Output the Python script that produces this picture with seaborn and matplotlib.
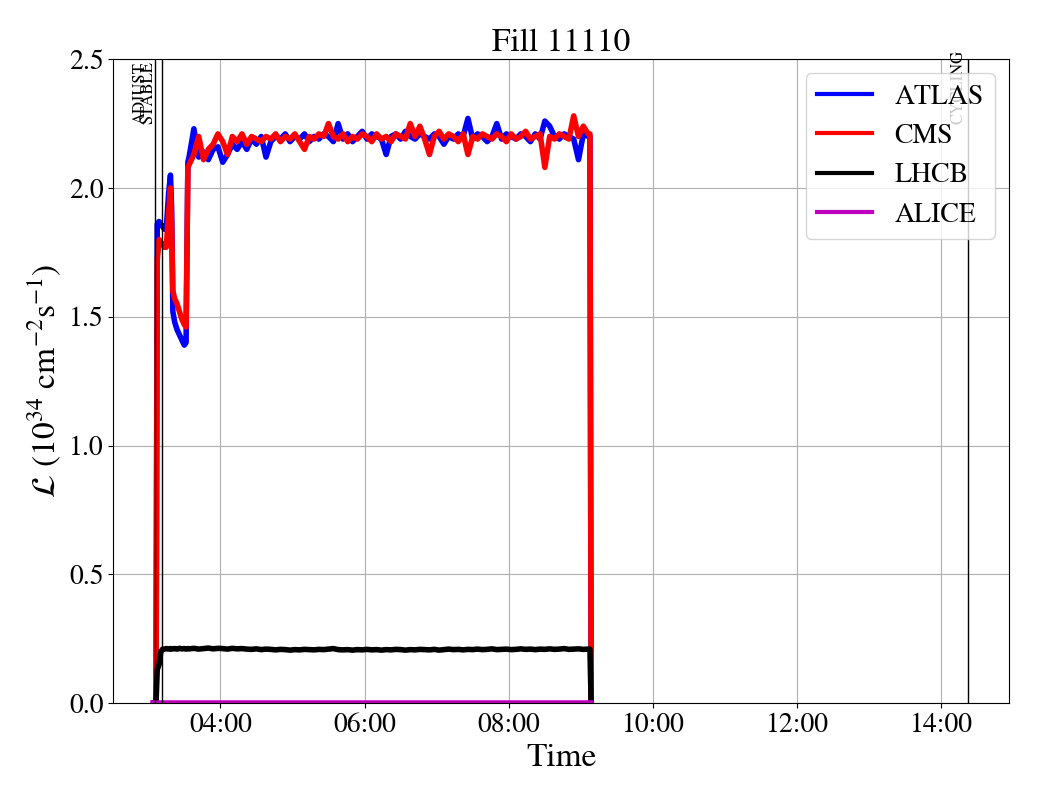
import matplotlib
matplotlib.use("Agg")
import matplotlib.pyplot as plt
import matplotlib.dates as mdates
import matplotlib.transforms as mtransforms
import numpy as np
import pandas as pd
import seaborn as sns

# ---------------- data ----------------
fill_title = "Fill 11110"
day = "2025-08-10"
start_clock = "03:00"

# minutes after 03:00
minutes = [5.0, 6.5, 7.5, 9.0, 10.5, 12.0, 13.5, 15.0, 17.0, 18.5, 19.5, 20.5, 22.0, 24.0,
           26.0, 28.0, 30.0, 31.5, 33.0,
           34, 38, 42, 46, 50, 54, 58, 62, 66, 70, 74, 78, 82, 86, 90, 94, 98, 102,
           106, 110, 114, 118, 122, 126, 130, 134, 138, 142, 146, 150, 154, 158, 162,
           166, 170, 174, 178, 182, 186, 190, 194, 198, 202, 206, 210, 214, 218, 222,
           226, 230, 234, 238, 242, 246, 250, 254, 258, 262, 266, 270, 274, 278, 282,
           286, 290, 294, 298, 302, 306, 310, 314, 318, 322, 326, 330, 334, 338, 342,
           346, 350, 354, 358, 362, 366,
           367.5, 368.5]

atlas = [0.0, 0.0, 1.86, 1.87, 1.86, 1.85, 1.84, 1.84, 1.98, 2.05, 1.92, 1.52, 1.48, 1.45,
         1.43, 1.41, 1.39, 1.40, 2.10,
         2.12, 2.23, 2.12, 2.14, 2.11, 2.15, 2.16, 2.10, 2.13, 2.17, 2.15, 2.18, 2.15, 2.19,
         2.17, 2.20, 2.12, 2.18, 2.20, 2.19, 2.21, 2.18, 2.20, 2.19, 2.21, 2.18, 2.20, 2.19,
         2.21, 2.20, 2.18, 2.25, 2.19, 2.21, 2.18, 2.20, 2.22, 2.19, 2.21, 2.20, 2.19, 2.13,
         2.20, 2.21, 2.19, 2.22, 2.20, 2.19, 2.21, 2.20, 2.19, 2.21, 2.20, 2.17, 2.20, 2.19,
         2.21, 2.20, 2.27, 2.19, 2.21, 2.20, 2.18, 2.20, 2.25, 2.19, 2.21, 2.20, 2.19, 2.21,
         2.20, 2.18, 2.21, 2.19, 2.26, 2.24, 2.20, 2.19, 2.21, 2.20, 2.19, 2.11, 2.21, 2.20,
         2.20, 0.0]

cms = [0.0, 0.0, 1.72, 1.80, 1.79, 1.78, 1.77, 1.77, 1.90, 2.00, 1.85, 1.60, 1.57, 1.55,
       1.52, 1.49, 1.47, 1.46, 2.08,
       2.09, 2.13, 2.20, 2.11, 2.15, 2.17, 2.21, 2.18, 2.13, 2.20, 2.18, 2.21, 2.17, 2.20,
       2.19, 2.18, 2.20, 2.19, 2.21, 2.18, 2.20, 2.19, 2.21, 2.18, 2.15, 2.20, 2.19, 2.21,
       2.20, 2.25, 2.20, 2.19, 2.21, 2.18, 2.20, 2.19, 2.21, 2.20, 2.18, 2.21, 2.19, 2.20,
       2.18, 2.21, 2.20, 2.19, 2.25, 2.20, 2.24, 2.19, 2.13, 2.20, 2.22, 2.19, 2.21, 2.20,
       2.18, 2.21, 2.13, 2.20, 2.19, 2.21, 2.20, 2.19, 2.21, 2.20, 2.18, 2.21, 2.19, 2.20,
       2.22, 2.19, 2.20, 2.21, 2.08, 2.20, 2.19, 2.21, 2.20, 2.19, 2.28, 2.20, 2.24, 2.21,
       2.21, 0.0]

lhcb = [0.0, 0.0, 0.13, 0.15, 0.20, 0.21, 0.21, 0.212, 0.21, 0.212, 0.21, 0.211, 0.212, 0.21,
        0.213, 0.211, 0.212, 0.21, 0.212,
        0.211, 0.213, 0.210, 0.212, 0.214, 0.211, 0.213, 0.212, 0.210, 0.213, 0.211, 0.212,
        0.210, 0.209, 0.211, 0.208, 0.210, 0.209, 0.207, 0.209, 0.208, 0.206, 0.208, 0.207,
        0.209, 0.208, 0.207, 0.209, 0.208, 0.210, 0.212, 0.208, 0.207, 0.208, 0.206, 0.208,
        0.207, 0.209, 0.207, 0.208, 0.206, 0.208, 0.207, 0.209, 0.208, 0.206, 0.208, 0.207,
        0.209, 0.208, 0.207, 0.209, 0.206, 0.208, 0.210, 0.208, 0.209, 0.207, 0.209, 0.208,
        0.210, 0.208, 0.209, 0.211, 0.208, 0.209, 0.210, 0.208, 0.209, 0.211, 0.209, 0.210,
        0.208, 0.210, 0.209, 0.211, 0.209, 0.210, 0.212, 0.209, 0.210, 0.211, 0.209, 0.210,
        0.210, 0.0]

alice_minutes = [4.0, 368.5]
alice = [0.0, 0.0]

experiments = ["ATLAS", "CMS", "LHCB", "ALICE"]
colors = {"ATLAS": "b", "CMS": "r", "LHCB": "k", "ALICE": "m"}

# beam modes: (label, minutes after 03:00)
mode_labels = ["ADJUST", "STABLE", "CYCLING"]
mode_minutes = [6.0, 11.8, 682.4]
mode_label_y = 2.25

x_limits_min = [-29.0, 716.0]
y_limits = [0.0, 2.5]

# ---------------- build table ----------------
base = pd.Timestamp(f"{day} {start_clock}")
frames = []
for name, vals, mins in [("ATLAS", atlas, minutes), ("CMS", cms, minutes),
                         ("LHCB", lhcb, minutes), ("ALICE", alice, alice_minutes)]:
    frames.append(pd.DataFrame({
        "time": base + pd.to_timedelta(mins, unit="min"),
        "lumi": vals,
        "experiment": name,
    }))
df = pd.concat(frames, ignore_index=True)

# ---------------- plot ----------------
plt.rcParams["font.family"] = ["STIXGeneral", "DejaVu Serif"]
plt.rcParams["mathtext.fontset"] = "stix"

fig = plt.figure(figsize=(10.4, 8), dpi=100)
ax = fig.add_axes([0.109, 0.121, 0.861, 0.805])

sns.lineplot(data=df, x="time", y="lumi", hue="experiment", hue_order=experiments,
             palette=colors, linewidth=4, estimator=None, sort=False, ax=ax)

for lab, m in zip(mode_labels, mode_minutes):
    t = base + pd.Timedelta(minutes=m)
    ax.axvline(t, color="k", linewidth=1, zorder=4)

offsets = {"ADJUST": -7, "STABLE": -6, "CYCLING": -2}
for lab, m in zip(mode_labels, mode_minutes):
    t = base + pd.Timedelta(minutes=m)
    tr = ax.transData + mtransforms.ScaledTranslation(offsets[lab] / 100.0, 0, fig.dpi_scale_trans)
    ax.text(t, mode_label_y, lab, rotation=90, ha="right", va="bottom",
            fontsize=12, transform=tr, zorder=4)

ax.set_xlim(base + pd.Timedelta(minutes=x_limits_min[0]),
            base + pd.Timedelta(minutes=x_limits_min[1]))
ax.set_ylim(*y_limits)
ax.xaxis.set_major_locator(mdates.HourLocator(byhour=range(0, 24, 2)))
ax.xaxis.set_major_formatter(mdates.DateFormatter("%H:%M"))
ax.set_yticks([0.0, 0.5, 1.0, 1.5, 2.0, 2.5])
ax.set_yticklabels(["0.0", "0.5", "1.0", "1.5", "2.0", "2.5"])
ax.tick_params(labelsize=20)
ax.grid(True, color="#b0b0b0", linewidth=0.8)

ax.set_title(fill_title, fontsize=24)
ax.set_xlabel("Time", fontsize=24)
ax.set_ylabel(r"$\mathcal{L}$ (10$^{34}$ cm$^{-2}$s$^{-1}$)", fontsize=24)

handles, labels = ax.get_legend_handles_labels()
for h in handles:
    h.set_linewidth(3)
ax.legend(handles, labels, loc="upper right", fontsize=20, title=None)

fig.savefig("out.png", dpi=100)
